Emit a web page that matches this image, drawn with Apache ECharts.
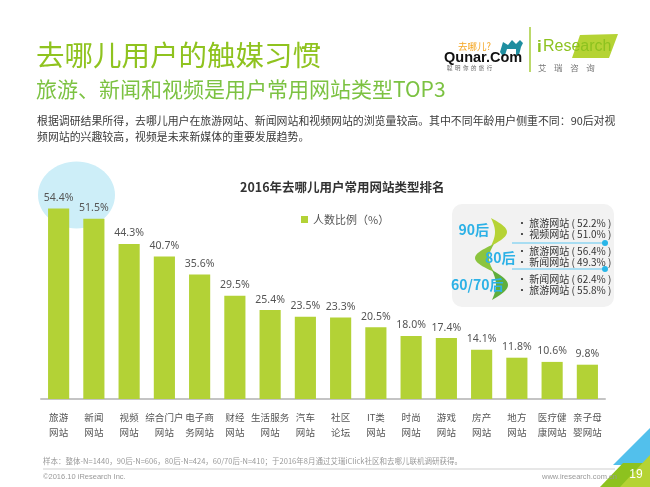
<!DOCTYPE html>
<html><head><meta charset="utf-8">
<script src="https://cdn.jsdelivr.net/npm/echarts@6/dist/echarts.min.js"></script>
<style>html,body{margin:0;padding:0;background:#fff}#c{width:650px;height:487px}</style>
</head><body><div id="c"></div>
<script>
const categories = ["旅游\n网站","新闻\n网站","视频\n网站","综合门户\n网站","电子商\n务网站","财经\n网站","生活服务\n网站","汽车\n网站","社区\n论坛","IT类\n网站","时尚\n网站","游戏\n网站","房产\n网站","地方\n网站","医疗健\n康网站","亲子母\n婴网站"];
const shares = [54.4,51.5,44.3,40.7,35.6,29.5,25.4,23.5,23.3,20.5,18.0,17.4,14.1,11.8,10.6,9.8];
const seriesName = "人数比例（%）";
const ageGroups = ["90后","80后","60/70后"];
const ageItems = [
  ["旅游网站 ( 52.2% )","视频网站 ( 51.0% )"],
  ["旅游网站 ( 56.4% )","新闻网站 ( 49.3% )"],
  ["新闻网站 ( 62.4% )","旅游网站 ( 55.8% )"]
];

const CJK = '"Noto Sans CJK SC", "Noto Sans", sans-serif';
function txt(x, y, text, o) {
  o = o || {};
  return {type:'text', x:x, y:y, z:o.z||5, style:{text:text, fill:o.fill||'#404040', fontSize:o.size||11,
    fontWeight:o.weight||'normal', fontFamily:o.family||CJK, textAlign:o.align||'left', textVerticalAlign:'middle'}};
}
function crescent(x0, y0, y1, b, inner, color) {
  const pts = [], n = 24;
  for (let i = 0; i <= n; i++) { const t = i/n; pts.push([x0 + b*Math.sin(Math.PI*t), y0 + (y1-y0)*t]); }
  for (let i = n; i >= 0; i--) { const t = i/n; pts.push([x0 + inner*Math.sin(Math.PI*t), y0 + (y1-y0)*t]); }
  return {type:'polygon', z:6, shape:{points:pts}, style:{fill:color}};
}

const graphics = [
  {type:'ellipse', z:0, shape:{cx:76.5, cy:195, rx:38.5, ry:33.5}, style:{fill:'#cdeef8'}},
  txt(36, 55, '去哪儿用户的触媒习惯', {size:28.5, fill:'#8fc31f'}),
  txt(36, 89, '旅游、新闻和视频是用户常用网站类型TOP3', {size:21, fill:'#7cc242'}),
  txt(37, 121, '根据调研结果所得，去哪儿用户在旅游网站、新闻网站和视频网站的浏览量较高。其中不同年龄用户侧重不同：90后对视', {size:10.9, fill:'#3a3a3a'}),
  txt(37, 137, '频网站的兴趣较高，视频是未来新媒体的重要发展趋势。', {size:10.9, fill:'#3a3a3a'}),
  txt(458, 46, '去哪儿?', {size:9.5, fill:'#f5a623'}),
  {type:'polygon', z:5, shape:{points:[[500,52],[503,42],[508,45],[512,40],[516,44],[520,40],[523,43],[521,47],[519,55],[516,55],[516,49],[507,49],[505,55],[502,55]]}, style:{fill:'#1f8ea0'}},
  txt(444, 58, 'Qunar.Com', {size:14.5, weight:'bold', fill:'#111', family:'"Liberation Sans", Arial, sans-serif'}),
  txt(447, 68, '聪  明  你  的  旅  行', {size:5.5, fill:'#666'}),
  {type:'line', z:5, shape:{x1:530, y1:27, x2:530, y2:72}, style:{stroke:'#a6cc3a', lineWidth:1.5}},
  {type:'polygon', z:4, shape:{points:[[580,35],[618,34],[609,58],[572,58]]}, style:{fill:'#b5d334'}},
  txt(537, 47, 'i', {size:17, fill:'#8dc21f', weight:'bold', family:'"Liberation Sans", Arial, sans-serif'}),
  txt(543, 47, 'Research', {size:16, fill:'#8dc21f', family:'"Liberation Sans", Arial, sans-serif'}),
  txt(538, 68, '艾    瑞    咨    询', {size:8.5, fill:'#777'}),
  {type:'rect', z:3, shape:{x:452, y:204, width:162, height:103, r:10}, style:{fill:'#f2f2f2'}},
  crescent(491, 218, 246, 16, 4, '#b6d335'),
  crescent(494, 244, 272, -19, -5, '#8cc43e'),
  crescent(492, 270, 300, 16, 4, '#5fae3c'),
  txt(489, 230, ageGroups[0], {size:14, weight:'bold', fill:'#2cb1e6', align:'right', z:7}),
  txt(485, 258, ageGroups[1], {size:14, weight:'bold', fill:'#2cb1e6', z:7}),
  txt(451, 285, ageGroups[2], {size:14, weight:'bold', fill:'#2cb1e6', z:7}),
  {type:'line', z:5, shape:{x1:512, y1:243, x2:605, y2:243}, style:{stroke:'#8fd6f2', lineWidth:1.5}},
  {type:'circle', z:5, shape:{cx:605, cy:243, r:3}, style:{fill:'#29b6e8'}},
  {type:'line', z:5, shape:{x1:512, y1:269, x2:605, y2:269}, style:{stroke:'#8fd6f2', lineWidth:1.5}},
  {type:'circle', z:5, shape:{cx:605, cy:269, r:3}, style:{fill:'#29b6e8'}},
  txt(43, 461, '样本：整体-N=1440，90后-N=606，80后-N=424，60/70后-N=410；于2016年8月通过艾瑞iClick社区和去哪儿联机调研获得。', {size:7.5, fill:'#999'}),
  {type:'line', z:5, shape:{x1:43, y1:469, x2:615, y2:469}, style:{stroke:'#cfcfcf', lineWidth:1}},
  txt(43, 477, '©2016.10 iResearch Inc.', {size:7.5, fill:'#999', family:'"Liberation Sans", Arial, sans-serif'}),
  txt(617, 477, 'www.iresearch.com.cn', {size:7.5, fill:'#999', align:'right', family:'"Liberation Sans", Arial, sans-serif'}),
  {type:'polygon', z:4, shape:{points:[[613,465],[650,428],[650,465]]}, style:{fill:'#52c0ec'}},
  {type:'polygon', z:4, shape:{points:[[600,487],[623,463],[650,463],[650,487]]}, style:{fill:'#8dc21f'}},
  {type:'polygon', z:4, shape:{points:[[620,487],[650,455],[650,487]]}, style:{fill:'#b5d334'}},
  txt(636, 475, '19', {size:12, fill:'#fff', align:'center', family:'"Liberation Sans", Arial, sans-serif', z:6})
];
ageItems.forEach((pair, g) => {
  const ys = [[223,234],[251,262],[279,290]][g];
  pair.forEach((s, i) => graphics.push(txt(517, ys[i], '• ' + s, {size:10, fill:'#333', z:7})));
});

const chart = echarts.init(document.getElementById('c'));
chart.setOption({
  animation:false,
  title:{text:'2016年去哪儿用户常用网站类型排名', left:235, top:176,
    textStyle:{fontSize:12.5, fontWeight:'bold', color:'#333', fontFamily:CJK}},
  legend:{data:[seriesName], left:296, top:209, icon:'rect', itemWidth:7, itemHeight:7, itemGap:4,
    textStyle:{fontSize:11, color:'#555', fontFamily:CJK}},
  grid:{left:41, right:45, top:189, bottom:88},
  xAxis:{type:'category', data:categories,
    axisLine:{lineStyle:{color:'#c4c4c4', width:2}}, axisTick:{show:false},
    axisLabel:{interval:0, fontSize:9.5, color:'#555', lineHeight:15, margin:11, fontFamily:CJK}},
  yAxis:{type:'value', min:0, max:60, show:false, splitLine:{show:false}},
  series:[{name:seriesName, type:'bar', data:shares, barWidth:'60%', z:2,
    itemStyle:{color:'#b3d236'},
    label:{show:true, position:'top', distance:5, fontSize:10.5, color:'#555',
      formatter:p => p.value.toFixed(1) + '%', fontFamily:'"Noto Sans", sans-serif'}}],
  graphic:graphics
});
</script></body></html>
